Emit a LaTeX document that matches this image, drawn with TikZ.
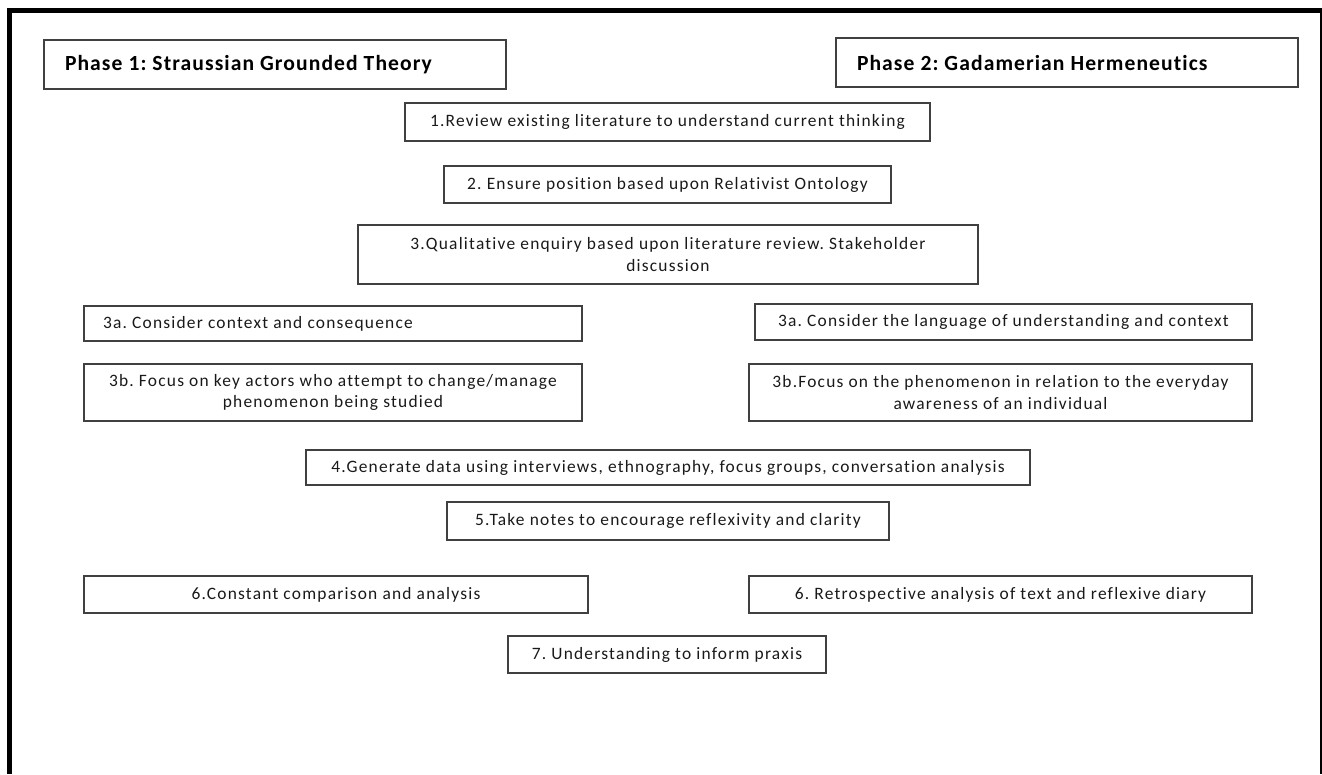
\documentclass[tikz,border=0pt]{standalone}
\usepackage{fontspec}
\setmainfont{Carlito}
\newfontfamily\boxfont[LetterSpace=7,Ligatures=NoCommon]{Carlito}
\newfontfamily\phasefont[LetterSpace=5,Ligatures=NoCommon]{Carlito}
\begin{document}
\begin{tikzpicture}[x=1pt,y=-1pt,
  box/.style={draw=black!75,line width=1.3pt,rectangle,inner sep=0pt,align=center,font=\boxfont\fontsize{17.4}{21.5}\selectfont\frenchspacing,text=black!90},
  phase/.style={draw=black!75,line width=1.3pt,rectangle,inner sep=0pt,align=flush left,font=\phasefont\fontsize{21.6}{24}\selectfont\bfseries\frenchspacing,text=black}]
\useasboundingbox (0,0) rectangle (1322,774);
% frame
\draw[line width=5pt] (9,774) -- (9,10.5) -- (1322,10.5);
\draw[line width=1.5pt] (1321,10.5) -- (1321,774);
% headers
\node[phase,minimum width=462,minimum height=49,text width=420] (p1) at (275,64.5) {Phase 1: Straussian Grounded Theory};
\node[phase,minimum width=462,minimum height=49,text width=420] (p2) at (1067,62.5) {Phase 2: Gadamerian Hermeneutics};
% steps
\node[box,minimum width=525,minimum height=38] (s1) at (667.5,122) {1.Review existing literature to understand current thinking};
\node[box,minimum width=447,minimum height=37] (s2) at (667.5,184.5) {2. Ensure position based upon Relativist Ontology};
\node[box,minimum width=620,minimum height=59] (s3) at (668,254.5) {3.Qualitative enquiry based upon literature review. Stakeholder\\discussion};
\node[box,minimum width=498,minimum height=35,text width=460,align=flush left] (s3aL) at (333,323.5) {3a. Consider context and consequence};
\node[box,minimum width=498,minimum height=57] (s3bL) at (333,392.5) {3b. Focus on key actors who attempt to change/manage\\phenomenon being studied};
\node[box,minimum width=497,minimum height=36] (s3aR) at (1003.5,322) {3a. Consider the language of understanding and context};
\node[box,minimum width=503,minimum height=57] (s3bR) at (1000.5,392.5) {3b.Focus on the phenomenon in relation to the everyday\\awareness of an individual};
\node[box,minimum width=724,minimum height=35] (s4) at (668,467.5) {4.Generate data using interviews, ethnography, focus groups, conversation analysis};
\node[box,minimum width=442,minimum height=38] (s5) at (668,521) {5.Take notes to encourage reflexivity and clarity};
\node[box,minimum width=504,minimum height=37] (s6L) at (336,594.5) {6.Constant comparison and analysis};
\node[box,minimum width=503,minimum height=37] (s6R) at (1000.5,594.5) {6. Retrospective analysis of text and reflexive diary};
\node[box,minimum width=318,minimum height=37] (s7) at (667,654.5) {7. Understanding to inform praxis};
\end{tikzpicture}
\end{document}
